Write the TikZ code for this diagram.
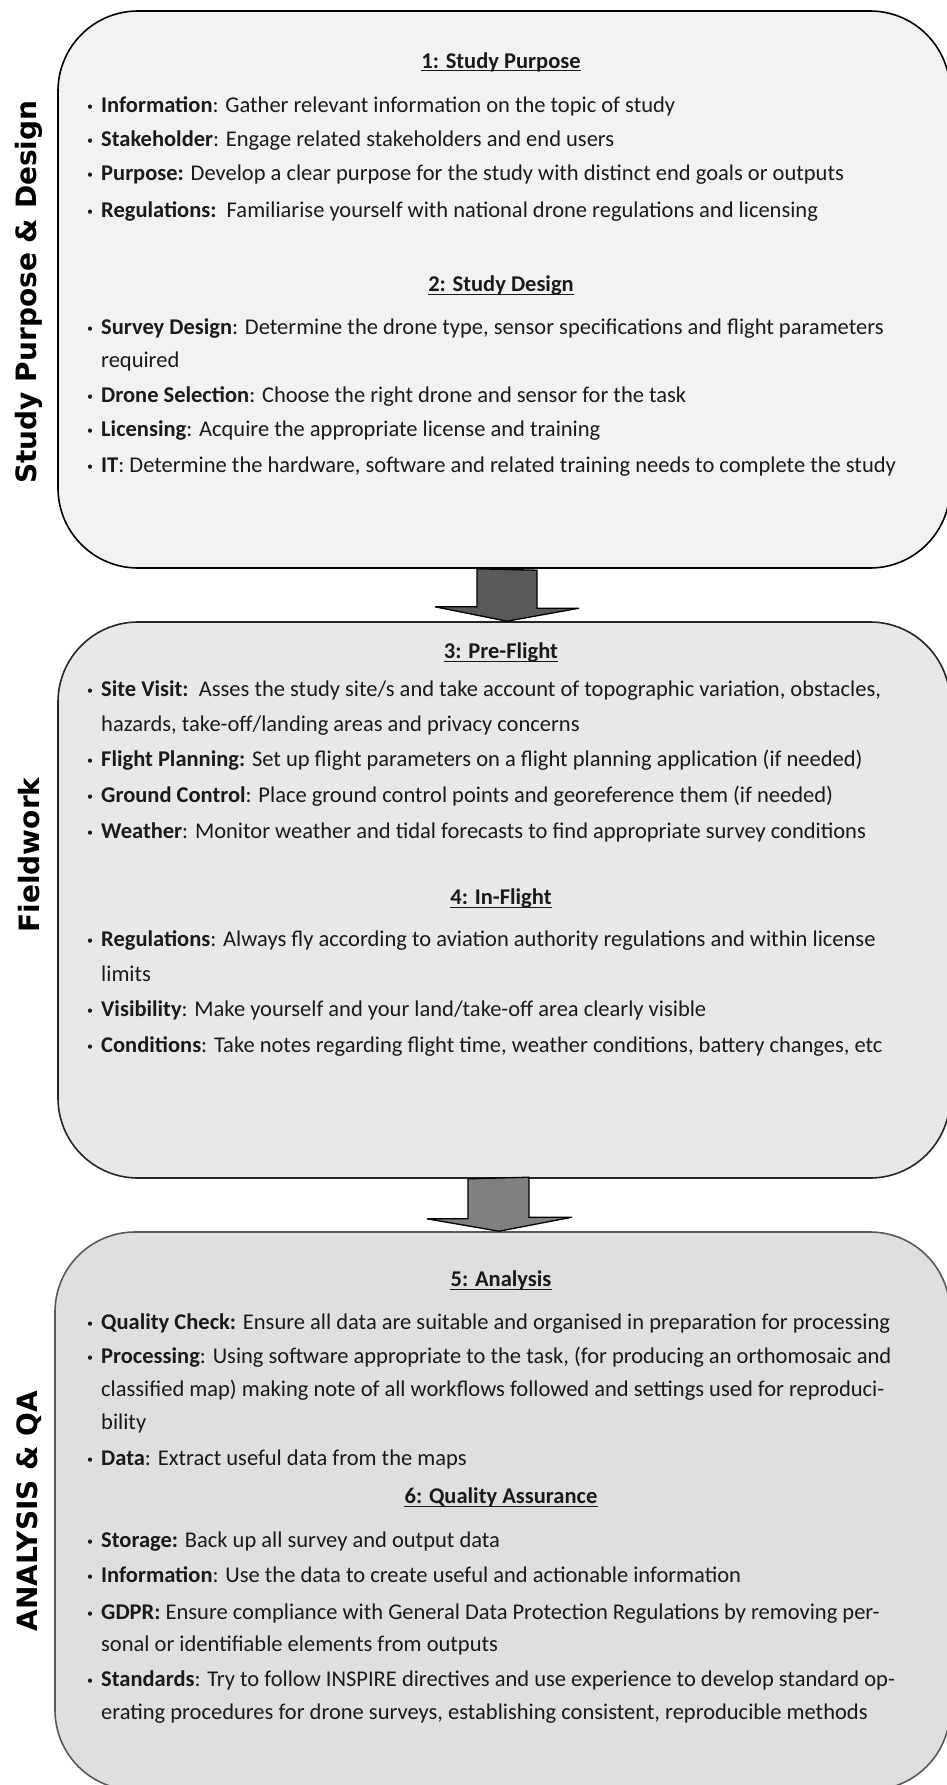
\documentclass[tikz,border=0pt]{standalone}
\usepackage{fontspec}
\setmainfont{Carlito}
\newfontfamily\sidefont{DejaVu Sans}
\usetikzlibrary{calc}
\definecolor{fillA}{HTML}{F2F2F2}
\definecolor{fillB}{HTML}{E8E8E8}
\definecolor{fillC}{HTML}{DFDFDF}
\definecolor{edgeB}{HTML}{262626}
\definecolor{edgeC}{HTML}{595959}
\definecolor{arrA}{HTML}{595959}
\definecolor{arrB}{HTML}{808080}
\definecolor{ink}{HTML}{1A1A1A}
\newcommand\bul{\makebox[14pt][l]{\raisebox{1.5pt}{\fontsize{12}{12}\selectfont •}}}
\begin{document}
\begin{tikzpicture}[x=1pt,y=1pt,
  panel/.style={rectangle, rounded corners=80pt, line width=1.6pt, inner sep=0pt},
  blockarrow/.style={draw=black, line width=1.3pt, line join=miter},
  side/.style={rotate=90, inner sep=0pt, font=\sidefont\bfseries\fontsize{28}{32}\selectfont, text=black},
  ln/.style={anchor=base west, inner sep=0pt, text=ink, font=\fontsize{22.5}{27}\selectfont},
  ttl/.style={anchor=base, inner sep=0pt, text=ink, font=\bfseries\fontsize{22.5}{27}\selectfont},
  uline/.style={draw=ink, line width=1pt}]
\useasboundingbox (0,0) rectangle (947,-1785);
\fill[white] (0,0) rectangle (947,-1785);

% panels
\node[panel, draw=black, fill=fillA, minimum width=892pt, minimum height=557pt] (b1) at (504,-289.5) {};
\node[panel, draw=edgeB, fill=fillB, minimum width=892pt, minimum height=556pt] (b2) at (504,-900) {};
\node[panel, draw=edgeC, fill=fillC, minimum width=895pt, minimum height=558pt] (b3) at (502.5,-1511) {};

% block arrows
\draw[blockarrow, fill=arrA] ([xshift=-27pt]b1.south) -- ++(0,-38) -- ++(-42,0)
  -- ([xshift=3pt]b2.north) -- ++(72,13) -- ++(-42,0) -- ++(0,38) -- cycle;
\draw[blockarrow, fill=arrB] ([xshift=-36pt]b2.south) -- ++(0,-40) -- ++(-41,0)
  -- ([xshift=-3.5pt]b3.north) -- ++(73,14) -- ++(-43,0) -- ++(0,40) -- cycle;

% side labels
\node[side] (s1) at (29,-292) {Study Purpose \& Design};
\node[side] (s2) at (29,-855) {Fieldwork};
\node[side] (s3) at (29,-1511) {ANALYSIS \& QA};

% ---------- panel 1
\node[ttl] (t1) at (501,-68) {1: Study Purpose};
\draw[uline] ([yshift=-3pt]t1.base west) -- ([yshift=-3pt]t1.base east);
\node[ln] (p1a) at (87,-112) {\bul\textbf{Information}: Gather relevant information on the topic of study};
\node[ln] (p1b) at (87,-146) {\bul\textbf{Stakeholder}: Engage related stakeholders and end users};
\node[ln] (p1c) at (87,-180) {\bul\textbf{Purpose:} Develop a clear purpose for the study with distinct end goals or outputs};
\node[ln] (p1d) at (87,-217) {\bul\textbf{Regulations:}\ \ Familiarise yourself with national drone regulations and licensing};
\node[ttl] (t2) at (501,-291) {2: Study Design};
\draw[uline] ([yshift=-3pt]t2.base west) -- ([yshift=-3pt]t2.base east);
\node[ln] (p2a) at (87,-334) {\bul\textbf{Survey Design}: Determine the drone type, sensor specifications and flight parameters};
\node[ln] (p2a2) at (101,-367) {required};
\node[ln] (p2b) at (87,-402) {\bul\textbf{Drone Selection}: Choose the right drone and sensor for the task};
\node[ln] (p2c) at (87,-436) {\bul\textbf{Licensing}: Acquire the appropriate license and training};
\node[ln] (p2d) at (87,-472) {\bul\textbf{IT}: Determine the hardware, software and related training needs to complete the study};

% ---------- panel 2
\node[ttl] (t3) at (501,-658) {3: Pre-Flight};
\draw[uline] ([yshift=-3pt]t3.base west) -- ([yshift=-3pt]t3.base east);
\node[ln] (p3a) at (87,-696) {\bul\textbf{Site Visit:}\ \ Asses the study site/s and take account of topographic variation, obstacles,};
\node[ln] (p3a2) at (101,-731) {hazards, take-off/landing areas and privacy concerns};
\node[ln] (p3b) at (87,-766) {\bul\textbf{Flight Planning:} Set up flight parameters on a flight planning application (if needed)};
\node[ln] (p3c) at (87,-802) {\bul\textbf{Ground Control}: Place ground control points and georeference them (if needed)};
\node[ln] (p3d) at (87,-838) {\bul\textbf{Weather}: Monitor weather and tidal forecasts to find appropriate survey conditions};
\node[ttl] (t4) at (501,-904) {4: In-Flight};
\draw[uline] ([yshift=-3pt]t4.base west) -- ([yshift=-3pt]t4.base east);
\node[ln] (p4a) at (87,-946) {\bul\textbf{Regulations}: Always fly according to aviation authority regulations and within license};
\node[ln] (p4a2) at (101,-981) {limits};
\node[ln] (p4b) at (87,-1016) {\bul\textbf{Visibility}: Make yourself and your land/take-off area clearly visible};
\node[ln] (p4c) at (87,-1052) {\bul\textbf{Conditions}: Take notes regarding flight time, weather conditions, battery changes, etc};

% ---------- panel 3
\node[ttl] (t5) at (501,-1286) {5: Analysis};
\draw[uline] ([yshift=-3pt]t5.base west) -- ([yshift=-3pt]t5.base east);
\node[ln] (p5a) at (87,-1329) {\bul\textbf{Quality Check:} Ensure all data are suitable and organised in preparation for processing};
\node[ln] (p5b) at (87,-1363) {\bul\textbf{Processing}: Using software appropriate to the task, (for producing an orthomosaic and};
\node[ln] (p5b2) at (101,-1396) {classified map) making note of all workflows followed and settings used for reproduci-};
\node[ln] (p5b3) at (101,-1429) {bility};
\node[ln] (p5c) at (87,-1465) {\bul\textbf{Data}: Extract useful data from the maps};
\node[ttl] (t6) at (501,-1503) {6: Quality Assurance};
\draw[uline] ([yshift=-3pt]t6.base west) -- ([yshift=-3pt]t6.base east);
\node[ln] (p6a) at (87,-1547) {\bul\textbf{Storage:} Back up all survey and output data};
\node[ln] (p6b) at (87,-1582) {\bul\textbf{Information}: Use the data to create useful and actionable information};
\node[ln] (p6c) at (87,-1619) {\bul\textbf{GDPR:} Ensure compliance with General Data Protection Regulations by removing per-};
\node[ln] (p6c2) at (101,-1651) {sonal or identifiable elements from outputs};
\node[ln] (p6d) at (87,-1686) {\bul\textbf{Standards}: Try to follow INSPIRE directives and use experience to develop standard op-};
\node[ln] (p6d2) at (101,-1719) {erating procedures for drone surveys, establishing consistent, reproducible methods};
\end{tikzpicture}
\end{document}
